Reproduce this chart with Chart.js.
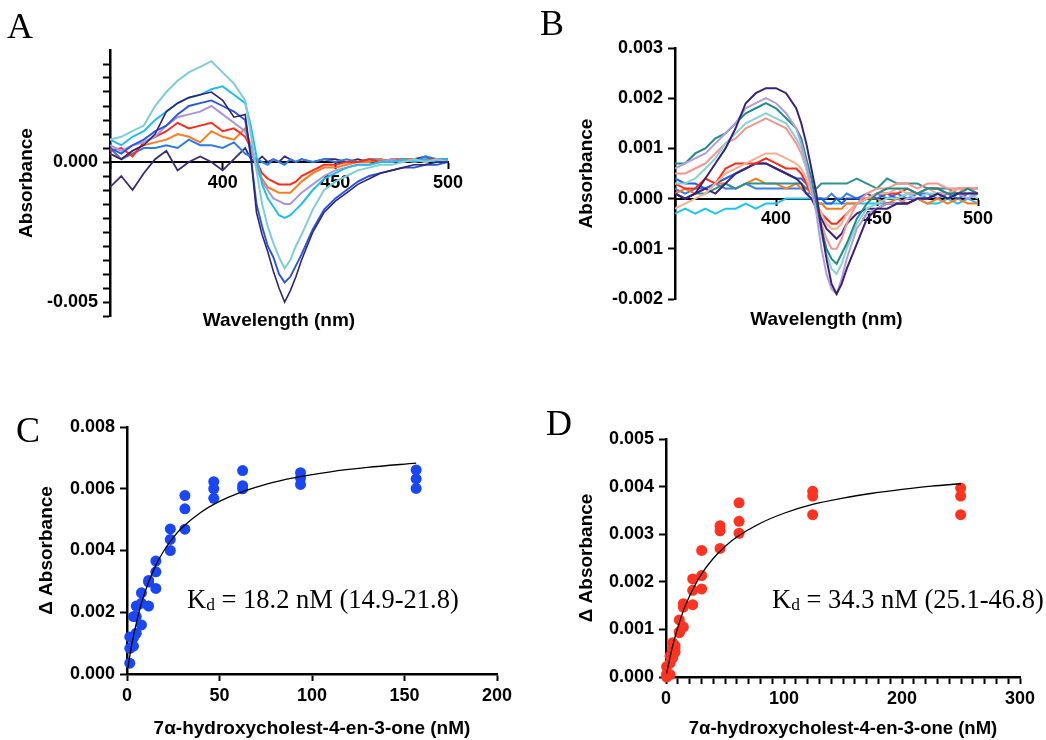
<!DOCTYPE html>
<html><head><meta charset="utf-8">
<script src="https://cdn.jsdelivr.net/npm/chart.js@4.4.1/dist/chart.umd.min.js"></script>
<style>
html,body{margin:0;padding:0;background:#fff;}
body{width:1046px;height:740px;position:relative;overflow:hidden;}
canvas{position:absolute;}
.lbl{position:absolute;font-family:'Liberation Serif','Times New Roman',serif;font-size:36px;line-height:36px;color:#000;}
.kd{position:absolute;font-family:'Liberation Serif','Times New Roman',serif;font-size:26.5px;line-height:26px;white-space:nowrap;color:#000;}
.kd .sub{font-size:0.66em;position:relative;top:0.12em;}
</style></head><body>
<canvas id="cA" width="520" height="340" style="left:0;top:0"></canvas>
<canvas id="cB" width="526" height="340" style="left:520px;top:0"></canvas>
<canvas id="cC" width="520" height="340" style="left:0;top:400px"></canvas>
<canvas id="cD" width="526" height="340" style="left:520px;top:400px"></canvas>
<div class="lbl" style="left:7px;top:8px">A</div>
<div class="lbl" style="left:540px;top:5px">B</div>
<div class="lbl" style="left:16px;top:412px">C</div>
<div class="lbl" style="left:546px;top:405px">D</div>
<div class="kd" style="left:187px;top:586px">K<span class="sub">d</span> = 18.2 nM (14.9-21.8)</div>
<div class="kd" style="left:772px;top:586px">K<span class="sub">d</span> = 34.3 nM (25.1-46.8)</div>
<script>
// ---------- Data ----------
const wavelength = [350,355,360,365,370,375,380,385,390,395,400,405,410,
  412.5,415,417.5,420,422.5,425,427.5,430,432.5,435,
  440,445,450,455,460,465,470,475,480,485,490,495,500];

// Panel A spectra (difference absorbance)
const aNavy = [.0003,.0001,.0004,.0006,.0010,.0018,.0021,.0023,.0024,.0025,.0022,.0016,.0017,
  .0002,-.0018,-.0026,-.0032,-.0039,-.0045,-.0050,-.0046,-.0041,-.0035,
  -.0025,-.0018,-.0014,-.0011,-.0008,-.0006,-.0004,-.0003,-.0002,-.0001,-.0001,0,0];
const aRoyal = [.0005,.0003,.0006,.0008,.0011,.0013,.0017,.0020,.0021,.0022,.0020,.0018,.0015,
  .0002,-.0015,-.0023,-.0030,-.0034,-.0040,-.0043,-.0041,-.0037,-.0033,
  -.0024,-.0017,-.0013,-.0010,-.0007,-.0005,-.0004,-.0003,-.0002,-.0002,-.0001,-.0001,0];
const aTeal = [.0008,.0009,.0011,.0013,.0020,.0025,.0029,.0032,.0034,.0036,.0032,.0028,.0022,
  .0010,-.0003,-.0015,-.0023,-.0029,-.0034,-.0038,-.0035,-.0030,-.0026,
  -.0017,-.0010,-.0007,-.0005,-.0003,-.0002,-.0001,-.0001,0,.0001,0,.0001,0];
const aCyan = [.0008,.0006,.0009,.0011,.0015,.0018,.0021,.0023,.0024,.0026,.0027,.0024,.0021,
  .0013,.0002,-.0008,-.0013,-.0016,-.0019,-.0020,-.0019,-.0017,-.0015,
  -.0010,-.0006,-.0004,-.0002,-.0001,-.0001,0,0,.0001,0,.0001,0,.0001];
const aLavender = [.0006,.0004,.0006,.0007,.0009,.0013,.0016,.0017,.0018,.0020,.0017,.0014,.0011,
  .0005,-.0002,-.0007,-.0010,-.0013,-.0014,-.0015,-.0015,-.0013,-.0011,
  -.0008,-.0005,-.0003,-.0002,-.0001,-.0001,0,.0001,0,.0001,0,.0001,0];
const aRed = [.0004,.0005,.0002,.0007,.0009,.0011,.0014,.0012,.0013,.0014,.0011,.0012,.0009,
  .0005,0,-.0004,-.0006,-.0007,-.0008,-.0008,-.0008,-.0007,-.0005,
  -.0003,-.0001,-.0001,0,0,.0001,0,.0001,.0001,0,.0001,.0001,0];
const aOrange = [.0003,.0001,.0004,.0006,.0007,.0008,.0010,.0009,.0007,.0011,.0009,.0008,.0012,
  .0006,-.0001,-.0006,-.0009,-.0010,-.0011,-.0011,-.0011,-.0009,-.0007,
  -.0004,-.0002,-.0002,-.0001,0,0,.0001,0,.0001,.0001,0,.0001,0];
const aBlue = [.0005,.0001,.0003,.0005,.0005,.0006,.0005,.0008,.0006,.0006,.0005,.0007,.0003,
  .0002,.0001,0,-.0001,.0001,0,-.0001,.0001,0,.0001,
  0,.0001,0,.0001,0,.0001,.0001,0,.0001,0,.0002,.0001,.0001];
const aPurple = [-.0009,-.0005,-.0010,-.0004,.0001,.0004,-.0003,0,.0002,0,-.0003,.0001,.0005,
  .0001,0,.0002,0,.0001,0,.0002,.0001,0,.0001,
  0,.0001,.0001,0,.0001,0,.0001,0,.0001,.0001,.0002,0,.0001];

// Panel B spectra
const bPurple = [.0001,0,.0001,.0004,.0007,.0010,.0014,.0019,.0021,.0022,.0022,.0021,.0018,
  .0015,.0011,.0006,.0001,-.0006,-.0012,-.0017,-.0019,-.0017,-.0014,
  -.0009,-.0004,-.0002,-.0002,-.0001,-.0001,0,0,.0001,0,.0001,.0001,.0001];
const bLavender = [.0006,.0007,.0008,.0009,.0011,.0013,.0015,.0018,.0019,.0020,.0019,.0017,.0014,
  .0011,.0007,.0002,-.0003,-.0010,-.0015,-.0018,-.0019,-.0016,-.0012,
  -.0006,-.0003,-.0002,-.0001,-.0001,0,0,0,.0001,0,.0001,0,.0001];
const bTeal = [.0007,.0007,.0009,.0010,.0012,.0013,.0015,.0017,.0018,.0019,.0018,.0016,.0014,
  .0012,.0008,.0004,-.0001,-.0006,-.0010,-.0012,-.0013,-.0011,-.0009,
  -.0004,-.0001,.0001,.0002,.0002,.0002,.0001,.0002,.0002,.0001,.0001,.0002,.0001];
const bAqua = [.0003,.0003,.0004,.0006,.0008,.0011,.0013,.0015,.0016,.0017,.0016,.0015,.0012,
  .0010,.0006,.0002,-.0002,-.0007,-.0011,-.0014,-.0015,-.0013,-.0010,
  -.0005,-.0002,-.0001,0,0,.0001,0,.0001,.0001,0,.0001,.0001,0];
const bSalmon = [.0005,.0005,.0006,.0007,.0009,.0011,.0012,.0014,.0015,.0016,.0015,.0014,.0011,
  .0009,.0006,.0002,-.0002,-.0005,-.0008,-.0010,-.0010,-.0008,-.0005,
  -.0001,.0001,.0002,.0002,.0003,.0003,.0002,.0003,.0003,.0002,.0002,.0002,.0002];
const bPeach = [-.0002,-.0001,0,.0001,.0003,.0005,.0006,.0007,.0008,.0009,.0009,.0008,.0007,
  .0006,.0004,.0001,-.0001,-.0003,-.0005,-.0006,-.0006,-.0005,-.0003,
  -.0001,0,.0001,.0001,.0002,.0001,.0001,.0002,.0001,.0001,.0002,.0001,.0001];
const bRed = [.0003,.0002,.0002,.0004,.0003,.0006,.0007,.0007,.0007,.0008,.0007,.0006,.0006,
  .0005,.0003,.0001,-.0001,-.0003,-.0004,-.0005,-.0005,-.0004,-.0003,
  -.0001,0,.0001,.0001,.0001,.0002,.0001,.0002,.0002,.0001,.0002,.0002,.0002];
const bPurple2 = [.0001,0,.0001,.0002,.0001,.0003,.0005,.0006,.0007,.0007,.0006,.0005,.0004,
  .0003,.0001,0,-.0002,-.0004,-.0006,-.0007,-.0008,-.0007,-.0005,
  -.0003,-.0002,-.0002,-.0001,-.0001,-.0001,0,0,.0001,0,.0001,.0001,.0001];
const bBlue = [.0004,.0003,.0003,.0002,.0003,.0004,.0005,.0006,.0007,.0007,.0006,.0005,.0004,
  .0004,.0003,.0001,0,0,-.0001,-.0001,0,-.0001,0,
  0,.0001,0,.0001,0,.0001,.0001,0,.0001,.0001,0,.0001,.0001];
const bTeal2 = [.0001,0,.0001,.0001,.0002,.0003,.0002,.0003,.0003,.0003,.0003,.0003,.0003,
  .0003,.0002,.0002,.0002,.0003,.0003,.0003,.0003,.0003,.0003,
  .0004,.0003,.0002,.0004,.0003,.0003,.0003,.0002,.0002,.0002,.0001,.0002,.0001];
const bOrange = [.0001,.0002,.0001,.0002,.0003,.0003,.0002,.0003,.0004,.0003,.0003,.0002,.0003,
  .0002,.0002,.0001,-.0001,-.0001,-.0002,-.0002,-.0002,-.0002,-.0001,
  -.0001,0,0,-.0001,0,-.0001,0,-.0001,0,-.0001,0,-.0001,-.0001];
const bBlue2 = [.0002,.0001,.0002,.0002,.0003,.0002,.0002,.0003,.0002,.0002,.0002,.0002,.0002,
  .0002,.0001,.0001,0,0,0,.0001,0,0,.0001,
  0,0,.0001,0,.0001,0,.0001,.0001,0,.0001,.0001,0,.0001];
const bCyan = [-.0003,-.0002,-.0003,-.0002,-.0003,-.0002,-.0002,-.0001,-.0002,-.0001,-.0001,0,0,
  0,0,0,-.0001,-.0001,-.0001,-.0001,-.0001,-.0001,-.0001,
  -.0001,-.0001,-.0001,-.0001,-.0001,-.0001,0,-.0001,-.0001,0,-.0001,0,-.0001];

// Panel C binding data (nM, delta absorbance, triplicates)
const cConc = [1.5, 3.5, 5, 7.8, 11.7, 15.6, 23.4, 31.3, 46.9, 62.5, 93.8, 156.3];
const cRep1 = [0.00035, 0.00090, 0.00132, 0.00159, 0.00220, 0.00277, 0.00400, 0.00469, 0.00569, 0.00600, 0.00614, 0.00601];
const cRep2 = [0.00083, 0.00118, 0.00186, 0.00229, 0.00298, 0.00331, 0.00436, 0.00535, 0.00600, 0.00610, 0.00634, 0.00632];
const cRep3 = [0.00120, 0.00186, 0.00220, 0.00263, 0.00303, 0.00366, 0.00470, 0.00578, 0.00623, 0.00659, 0.00652, 0.00661];
const cFitX = [0.5, 1, 2, 3, 5, 8, 12, 16, 20, 25, 30, 40, 50, 60, 75, 90, 110, 130, 156.3];
const cFitY = [0.0002, 0.0004, 0.00076, 0.00108, 0.00164, 0.00233, 0.00303, 0.00357, 0.0040, 0.00442, 0.00475, 0.00524, 0.00559, 0.00585, 0.00614, 0.00635, 0.00655, 0.00669, 0.00683];

// Panel D binding data
const dConc = [0.5, 3.4, 5.6, 7.6, 11.3, 14.7, 22.6, 30.2, 45.8, 61.9, 124.3, 249.7];
const dRep1 = [0.0, 0.00005, 0.00040, 0.00052, 0.00093, 0.00105, 0.00152, 0.00185, 0.00270, 0.00302, 0.00341, 0.00341];
const dRep2 = [0.00006, 0.00029, 0.00058, 0.00060, 0.00095, 0.00147, 0.00182, 0.00213, 0.00307, 0.00327, 0.00380, 0.00380];
const dRep3 = [0.00022, 0.00044, 0.00072, 0.00066, 0.00120, 0.00154, 0.00206, 0.00266, 0.00318, 0.00366, 0.00390, 0.00397];
const dFitX = [0.5, 2, 5, 10, 15, 20, 30, 40, 50, 60, 80, 100, 125, 150, 175, 200, 225, 250];
const dFitY = [0.00007, 0.00025, 0.00059, 0.00104, 0.00141, 0.0017, 0.00216, 0.00249, 0.00274, 0.00294, 0.00323, 0.00344, 0.00363, 0.00376, 0.00386, 0.00394, 0.00401, 0.00406];

// ---------- Charts ----------
Chart.defaults.font.family = "'Liberation Sans', Arial, Helvetica, sans-serif";
Chart.defaults.color = '#000';
Chart.defaults.animation = false;
Chart.defaults.events = [];
Chart.defaults.plugins.legend.display = false;
Chart.defaults.plugins.tooltip.enabled = false;

const TICKFONT = {size: 18, weight: 'bold'};
const TITLEFONT = {size: 19, weight: 'bold'};
const near = (a, b) => Math.abs(a - b) < 1e-9;

function pts(xs, ys) { return xs.map((x, i) => ({x: x, y: ys[i]})); }

function yAxis(min, max, step, cb, width, title, padTop, hideTop) {
  return {
    type: 'linear', position: 'left', min: min, max: max,
    afterFit: s => { s.width = width; },
    ticks: {stepSize: step, autoSkip: false, callback: cb, font: TICKFONT, padding: 5, color: '#000'},
    grid: {drawOnChartArea: false, drawTicks: true, tickLength: 7, tickWidth: 2, color: '#000',
           tickColor: ctx => (hideTop && ctx.tick && near(ctx.tick.value, max) ? 'rgba(0,0,0,0)' : '#000')},
    border: {display: true, color: '#000', width: 2.5},
    title: {display: true, text: title, font: TITLEFONT, color: '#000', padding: {top: padTop, bottom: 0}}
  };
}

function spectrumChart(id, series, colors, widths, yScale, bottomH, titlePadBottom, padding) {
  const datasets = series.map((s, i) => ({
    type: 'line', data: pts(wavelength, s), borderColor: colors[i], backgroundColor: colors[i],
    borderWidth: widths[i], pointRadius: 0, tension: 0, fill: false
  }));
  return new Chart(document.getElementById(id), {
    type: 'line',
    data: {datasets: datasets},
    options: {
      responsive: false,
      layout: {padding: padding},
      scales: {
        y: yScale,
        x: {
          type: 'linear', position: {y: 0}, min: 350, max: 500,
          ticks: {stepSize: 50, autoSkip: false, font: TICKFONT, padding: 4, maxRotation: 0,
                  callback: v => (v === 350 ? '' : v)},
          grid: {drawOnChartArea: false, tickLength: 6, tickWidth: 2, color: '#000', tickColor: '#000'},
          border: {display: true, color: '#000', width: 2}
        },
        x2: {
          type: 'linear', position: 'bottom', min: 350, max: 500,
          afterFit: s => { s.height = bottomH; },
          ticks: {display: false}, grid: {display: false, drawTicks: false}, border: {display: false},
          title: {display: true, text: 'Wavelength (nm)', font: TITLEFONT, color: '#000', padding: {top: 0, bottom: titlePadBottom}}
        }
      }
    }
  });
}

// Panel A
spectrumChart('cA',
  [aNavy, aRoyal, aTeal, aCyan, aLavender, aRed, aOrange, aBlue, aPurple],
  ['#34236F', '#2556E2', '#7FCDD4', '#21BDF0', '#A996D9', '#FF2B1C', '#FF7B1E', '#2B7CEB', '#3B2A72'],
  [1.6, 1.9, 2, 2, 2, 2, 2, 2, 1.8],
  yAxis(-0.0055, 0.004, 0.0005,
    v => (near(v, 0) ? '0.000' : (near(v, -0.005) ? '-0.005' : '')),
    110, 'Absorbance', 15.6, true),
  24, 7.6, {left: 0, top: 50, right: 72, bottom: 0});

// Panel B
spectrumChart('cB',
  [bPurple, bLavender, bTeal, bAqua, bSalmon, bPeach, bRed, bPurple2, bBlue, bTeal2, bOrange, bBlue2, bCyan],
  ['#3A2275', '#B49CDD', '#1E8C8A', '#86D3D1', '#F4968E', '#F9AE8E', '#FF2A1A', '#3A2577', '#1F5EE8', '#2A9490', '#FF7A1C', '#3A7CF0', '#1CC5F0'],
  [2, 2, 2, 2, 2, 2, 2, 2, 2, 2, 2, 2, 2],
  yAxis(-0.002, 0.003, 0.001, v => v.toFixed(3), 155, 'Absorbance', 55.6, false),
  41, 8.6, {left: 0, top: 48, right: 68, bottom: 0});

function bindingChart(id, conc, reps, fitX, fitY, color, xMax, xStep, xCb, yMax, yStep, yWidth, yPadTop, xH, xTitleSize, padding) {
  const datasets = [{
    type: 'line', data: pts(fitX, fitY), borderColor: '#000', borderWidth: 1.3,
    pointRadius: 0, tension: 0.4, cubicInterpolationMode: 'monotone', fill: false
  }];
  reps.forEach(r => datasets.push({
    type: 'scatter', data: pts(conc, r), pointRadius: 5.5, pointBackgroundColor: color,
    pointBorderColor: color, pointBorderWidth: 0, showLine: false, clip: false
  }));
  return new Chart(document.getElementById(id), {
    type: 'scatter',
    data: {datasets: datasets},
    options: {
      responsive: false,
      layout: {padding: padding},
      scales: {
        y: yAxis(0, yMax, yStep, v => v.toFixed(3), yWidth, 'Δ Absorbance', yPadTop, false),
        x: {
          type: 'linear', position: 'bottom', min: 0, max: xMax,
          afterFit: s => { s.height = xH; },
          ticks: {stepSize: xStep, autoSkip: false, font: TICKFONT, padding: 4, maxRotation: 0, callback: xCb},
          grid: {drawOnChartArea: false, tickLength: 7, tickWidth: 2, color: '#000', tickColor: '#000'},
          border: {display: true, color: '#000', width: 2.5},
          title: {display: true, text: '7α-hydroxycholest-4-en-3-one (nM)', font: {size: xTitleSize, weight: 'bold'}, color: '#000', padding: {top: 0, bottom: 0}}
        }
      }
    }
  });
}

bindingChart('cC', cConc, [cRep1, cRep2, cRep3], cFitX, cFitY, '#1A47F5',
  200, 50, v => v, 0.008, 0.002, 127, 35.6, 66, 19, {left: 0, top: 27, right: 23, bottom: 0});
bindingChart('cD', dConc, [dRep1, dRep2, dRep3], dFitX, dFitY, '#FF3320',
  300, 10, v => (v % 100 === 0 ? v : ''), 0.005, 0.001, 146, 55.6, 63, 18.5, {left: 0, top: 39, right: 26, bottom: 0});
</script>
</body></html>
